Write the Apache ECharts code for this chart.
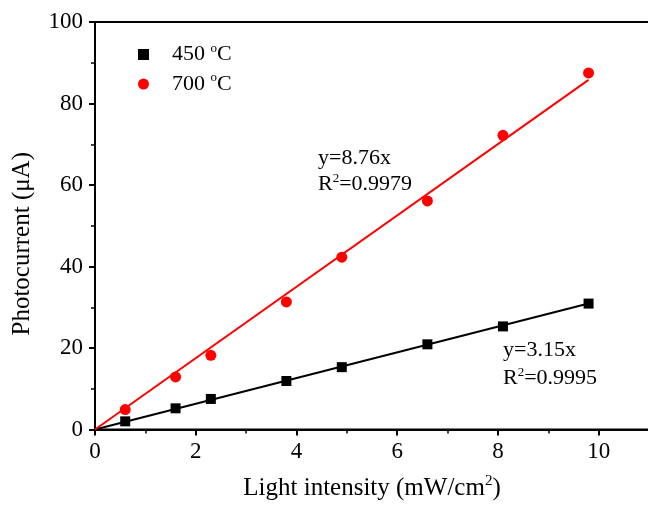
<!DOCTYPE html>
<html><head><meta charset="utf-8">
<script src="https://cdn.jsdelivr.net/npm/echarts@6/dist/echarts.min.js"></script>
<style>html,body{margin:0;padding:0;background:#fff}#c{width:648px;height:513px}</style>
</head><body><div id="c"></div>
<script>
const xCats = [0.6, 1.6, 2.3, 3.8, 4.9, 6.6, 8.1, 9.8];
const y450 = [2.0, 5.2, 7.5, 11.9, 15.3, 20.9, 25.3, 30.9];
const y700 = [4.9, 12.9, 18.2, 31.3, 42.3, 56.1, 72.2, 87.5];
const fit450 = [[0, 0], [9.8, 30.9]];
const fit700 = [[0, 0], [9.8, 85.8]];
const xTicks = [0, 2, 4, 6, 8, 10];
const yTicks = [0, 20, 40, 60, 80, 100];

const font = 'Liberation Serif';
const chart = echarts.init(document.getElementById('c'));
const sup = {sup: {fontSize: 13, verticalAlign: 'top', padding: [0,0,12,0], fontFamily: font, color: '#000'}};
chart.setOption({
  animation: false,
  backgroundColor: '#fff',
  grid: {left: 95, top: 22, width: 554, height: 407.5, show: true, borderColor: '#000', borderWidth: 2,
         backgroundColor: 'transparent', containLabel: false, outerBoundsMode: 'none'},
  legend: {
    orient: 'vertical', left: 133, top: 37, itemGap: 6, itemWidth: 11, itemHeight: 11,
    data: [{name: '450', icon: 'rect'}, {name: '700', icon: 'circle'}],
    formatter: n => n + ' {s|o}C',
    textStyle: {fontFamily: font, fontSize: 22, color: '#000', padding: [0,0,0,18],
      rich: {s: {fontSize: 13, fontFamily: font, color: '#000', padding: [0,0,12,0]}}}
  },
  xAxis: {
    type: 'value', min: 0, max: 11, interval: 2,
    name: 'Light intensity (mW/cm{s|2})', nameLocation: 'middle', nameGap: 44,
    nameTextStyle: {fontFamily: font, fontSize: 25, color: '#000', rich: {s: {fontSize: 15, fontFamily: font, color: '#000', padding: [0,0,14,0]}}},
    axisLine: {show: true, lineStyle: {color: '#000', width: 2}},
    axisTick: {show: true, inside: false, length: 6, lineStyle: {color: '#000', width: 2}},
    minorTick: {show: true, splitNumber: 2, length: 4, lineStyle: {color: '#000', width: 1.5}},
    splitLine: {show: false},
    axisLabel: {fontFamily: font, fontSize: 23, color: '#000', margin: 11,
      formatter: v => xTicks.includes(v) ? String(v) : ''}
  },
  yAxis: {
    type: 'value', min: 0, max: 100, interval: 20,
    name: 'Photocurrent (μA)', nameLocation: 'middle', nameGap: 60, nameRotate: 90,
    nameTextStyle: {fontFamily: font, fontSize: 25, color: '#000', padding: [0, 36, 0, 0]},
    axisLine: {show: true, lineStyle: {color: '#000', width: 2}},
    axisTick: {show: true, inside: false, length: 6, lineStyle: {color: '#000', width: 2}},
    minorTick: {show: true, splitNumber: 2, length: 4, lineStyle: {color: '#000', width: 1.5}},
    splitLine: {show: false},
    axisLabel: {fontFamily: font, fontSize: 23, color: '#000', margin: 12,
      formatter: v => yTicks.includes(v) ? String(v) : ''}
  },
  series: [
    {name: '450', type: 'scatter', symbol: 'rect', symbolSize: 10, itemStyle: {color: '#000', opacity: 1},
     data: xCats.map((x, i) => [x, y450[i]]), z: 3},
    {name: '700', type: 'scatter', symbol: 'circle', symbolSize: 11, itemStyle: {color: '#ff0000', opacity: 1},
     data: xCats.map((x, i) => [x, y700[i]]), z: 3},
    {name: 'fit450', type: 'line', data: fit450, showSymbol: false, symbol: 'none',
     lineStyle: {color: '#000', width: 2}, z: 2},
    {name: 'fit700', type: 'line', data: fit700, showSymbol: false, symbol: 'none',
     lineStyle: {color: '#ff0000', width: 2}, z: 2}
  ],
  graphic: [
    {type: 'text', left: 318, top: 147, style: {text: 'y=8.76x', font: '22px "Liberation Serif"', fill: '#000'}},
    {type: 'text', left: 318, top: 172, style: {rich: sup, text: 'R{sup|2}=0.9979', font: '22px "Liberation Serif"', fill: '#000'}},
    {type: 'text', left: 503, top: 339, style: {text: 'y=3.15x', font: '22px "Liberation Serif"', fill: '#000'}},
    {type: 'text', left: 503, top: 366, style: {rich: sup, text: 'R{sup|2}=0.9995', font: '22px "Liberation Serif"', fill: '#000'}}
  ]
});
</script></body></html>
